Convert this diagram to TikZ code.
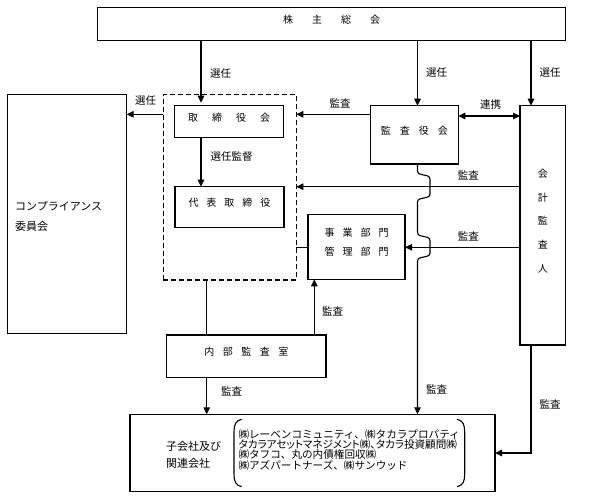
\documentclass[tikz,border=0pt]{standalone}
\usepackage{fontspec}
\newfontfamily\jp{Noto Sans CJK JP}
\newfontfamily\jpp[RawFeature=+palt]{Noto Sans CJK JP}
\usetikzlibrary{arrows.meta,fit}
\begin{document}
\begin{tikzpicture}[x=1pt,y=-1pt,
  font=\jp\fontsize{10}{12}\selectfont,
  box/.style={draw, line width=1.1pt, inner sep=0pt, outer sep=0pt},
  dbox/.style={draw, line width=1.1pt, dash pattern=on 5pt off 3pt, inner sep=0pt, outer sep=0pt},
  conn/.style={line width=1.1pt},
  tip/.tip={Triangle[length=7pt,width=6.5pt]},
  arr/.style={conn, -tip},
  lbl/.style={font=\jp\fontsize{10.5}{12}\selectfont, inner sep=0pt},
]
\useasboundingbox (0,0) rectangle (605,498);

% ---- boxes ----
\node[box, fit={(97.7,7.3) (565.7,40.7)}] (kabu) {株\hspace{19pt}主\hspace{19pt}総\hspace{19pt}会};
\node[box, fit={(7.3,94.3) (126.7,333.3)}] (comp) {};
\node[anchor=west, align=left, inner sep=0pt, font=\jp\fontsize{11}{19.3}\selectfont] (comptext) at (15,216.3) {コンプライアンス\\委員会};
\node[dbox, fit={(163.3,94.3) (296.3,280)}] (exec) {};
\node[box, fit={(174.7,105.7) (283.3,137.7)}] (tori) {取\hspace{14pt}締\hspace{14pt}役\hspace{14pt}会};
\node[box, fit={(175,186.7) (284,227.7)}] (daihyo) {代\hspace{8pt}表\hspace{8pt}取\hspace{8pt}締\hspace{8pt}役};
\node[box, fit={(370.3,105.7) (458.3,164)}] (kansa) {監\hspace{9pt}査\hspace{9pt}役\hspace{9pt}会};
\node[box, fit={(520,105.7) (565.7,345)}, align=center, font=\jp\fontsize{10}{23.75}\selectfont] (kaikei) {会\\計\\監\\査\\人};
\node[box, fit={(308,214.3) (405,279.3)}, align=center, font=\jp\fontsize{10}{19}\selectfont] (jigyo) {事\hspace{8pt}業\hspace{8pt}部\hspace{8pt}門\\管\hspace{8pt}理\hspace{8pt}部\hspace{8pt}門};
\node[box, fit={(166.7,335) (326,377.7)}] (naibu) {内\hspace{8.5pt}部\hspace{8.5pt}監\hspace{8.5pt}査\hspace{8.5pt}室};
\node[box, fit={(130,414.3) (495,491.7)}] (group) {};
\node[anchor=west, align=left, inner sep=0pt, font=\jp\fontsize{11}{17.3}\selectfont] (grouplbl) at (166,454.7) {子会社及び\\関連会社};
\node[anchor=west, align=left, inner sep=0pt, font=\jp\fontsize{10.6}{10.4}\selectfont] (list) at (238.3,449.6) {㈱レーベンコミュニティ、㈱タカラプロパティ\\{\jpp タカラアセットマネジメント㈱、タカラ投資顧問㈱}\\㈱タフコ、丸の内債権回収㈱\\㈱アズパートナーズ、㈱サンウッド};

% brackets
\draw[conn] (241.7,419.3) .. controls (235.5,420.5) and (234,425) .. (234,432) -- (234,474) .. controls (234,481) and (235.5,485.5) .. (241.7,486.7);
\draw[conn] (457,419.3) .. controls (463.2,420.5) and (464.7,425) .. (464.7,432) -- (464.7,474) .. controls (464.7,481) and (463.2,485.5) .. (457,486.7);

% ---- helper coordinates ----
\coordinate (xA) at (201,0);
\coordinate (xB) at (417.5,0);
\coordinate (xC) at (531,0);
\coordinate (xD) at (206.7,0);
\coordinate (xE) at (314.3,0);
\coordinate (yA) at (0,114.3);
\coordinate (yB) at (0,116);
\coordinate (yC) at (0,186.7);
\coordinate (yD) at (0,247.3);

% ---- connectors ----
\draw[arr, shorten >=3pt] (kabu.south -| xA) -- (tori.north -| xA);
\draw[arr] (kabu.south -| xB) -- (kansa.north -| xB);
\draw[arr] (kabu.south -| xC) -- (kaikei.north -| xC);
\draw[arr] (exec.west |- yA) -- (comp.east |- yA);
\draw[arr] (kansa.west |- yA) -- (exec.east |- yA);
\draw[conn, tip-tip] (kansa.east |- yB) -- (kaikei.west |- yB);
\draw[arr] (tori.south -| xA) -- (daihyo.north -| xA);
\draw[arr] (kaikei.west |- yC) -- (exec.east |- yC);
\draw[arr] (kaikei.west |- yD) -- (jigyo.east |- yD);
\draw[conn] (exec.east |- yD) -- (jigyo.west |- yD);
\draw[conn] (exec.south -| xD) -- (naibu.north -| xD);
\draw[arr] (naibu.north -| xE) -- (jigyo.south -| xE);
\draw[arr] (naibu.south -| xD) -- (group.north -| xD);
\draw[arr, rounded corners=2.5pt] (kansa.south -| xB) -- (417.5,173.5) -- (430,176.5) -- (430,196.5) -- (417.5,199.5) -- (417.5,235) -- (430,238) -- (430,255.5) -- (417.5,258.5) -- (group.north -| xB);
\draw[arr] (kaikei.south -| xC) -- (xC |- group.east) -- (group.east);

% ---- labels ----
\node[lbl] (l1) at (220.7,73.3) {選任};
\node[lbl] (l2) at (436.7,73) {選任};
\node[lbl] (l3) at (550,73) {選任};
\node[lbl] (l4) at (145.7,101) {選任};
\node[lbl] (l5) at (340,103.3) {監査};
\node[lbl] (l6) at (490.7,105) {連携};
\node[lbl] (l7) at (231.7,156.7) {選任監督};
\node[lbl] (l8) at (468.3,175) {監査};
\node[lbl] (l9) at (468.3,236.7) {監査};
\node[lbl] (l10) at (332.7,311.7) {監査};
\node[lbl] (l11) at (231.7,391.7) {監査};
\node[lbl] (l12) at (436.7,389.3) {監査};
\node[lbl] (l13) at (550,404) {監査};
\end{tikzpicture}
\end{document}
